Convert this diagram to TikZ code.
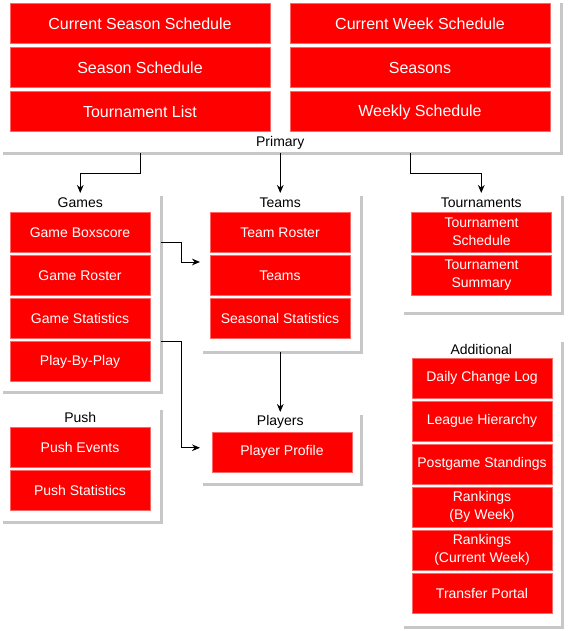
\documentclass[tikz,border=0pt]{standalone}
\usepackage{fontspec}
\setmainfont{Liberation Sans}
\usetikzlibrary{arrows.meta,positioning,shadows}

\begin{document}
\begin{tikzpicture}[
  x=0.75pt, y=-0.75pt,
  node distance=1.5pt,
  every node/.style={align=center, font=\fontsize{10.5}{13.5}\selectfont},
  group/.style={rectangle, fill=white, draw=none, inner sep=0pt, anchor=north west,
    drop shadow={shadow xshift=2.25pt, shadow yshift=-2.25pt, fill=black!22, opacity=1}},
  endpoint/.style={rectangle, fill=red, draw=red!60, line width=0.75pt, text=white,
    minimum width=105pt, minimum height=30pt, inner sep=1pt},
  wide/.style={endpoint, minimum width=195pt, font=\fontsize{12}{14}\selectfont},
  grouplabel/.style={inner sep=0pt},
  arrow/.style={-{Stealth[length=6pt, width=5pt]}, line width=0.75pt}
]
\useasboundingbox (0,0) rectangle (569,631);

% groups
\node[group, minimum width=420pt, minimum height=114pt] (primary) at (0,0) {};
\node[group, minimum width=120pt, minimum height=148.5pt] (games) at (0,193) {};
\node[group, minimum width=120pt, minimum height=118.5pt] (teams) at (200,193) {};
\node[group, minimum width=120pt, minimum height=89.25pt] (tournaments) at (401,193) {};
\node[group, minimum width=120pt, minimum height=215.25pt] (additional) at (401,339) {};
\node[group, minimum width=120pt, minimum height=85.5pt] (push) at (0,407) {};
\node[group, minimum width=120pt, minimum height=53.25pt] (players) at (200,412) {};

\node[grouplabel] (primarylabel) at ([yshift=7.5pt]primary.south) {Primary};
\node[grouplabel] (gameslabel) at ([yshift=-7.5pt]games.north) {Games};
\node[grouplabel] (teamslabel) at ([yshift=-7.5pt]teams.north) {Teams};
\node[grouplabel] (tournamentslabel) at ([yshift=-7.5pt]tournaments.north) {Tournaments};
\node[grouplabel] (additionallabel) at ([yshift=-7.5pt]additional.north) {Additional};
\node[grouplabel] (pushlabel) at ([yshift=-7.5pt]push.north) {Push};
\node[grouplabel] (playerslabel) at ([yshift=-7.5pt]players.north) {Players};

% primary
\node[wide] (cseason) at (140,24) {Current Season Schedule};
\node[wide, below=2.25pt of cseason] (season) {Season Schedule};
\node[wide, below=2.25pt of season] (tlist) {Tournament List};
\node[wide] (cweek) at (420,24) {Current Week Schedule};
\node[wide, below=2.25pt of cweek] (seasons) {Seasons};
\node[wide, below=2.25pt of seasons] (weekly) {Weekly Schedule};

% games
\node[endpoint] (boxscore) at (80,232.5) {Game Boxscore};
\node[endpoint, below=of boxscore] (groster) {Game Roster};
\node[endpoint, below=of groster] (gstats) {Game Statistics};
\node[endpoint, below=of gstats] (pbp) {Play-By-Play};

% teams
\node[endpoint] (troster) at (280,232.5) {Team Roster};
\node[endpoint, below=of troster] (teamlist) {Teams};
\node[endpoint, below=of teamlist] (sstats) {Seasonal Statistics};

% tournaments
\node[endpoint] (tschedule) at (481.5,232) {Tournament\\Schedule};
\node[endpoint, below=of tschedule] (tsummary) {Tournament\\Summary};

% additional
\node[endpoint] (changelog) at (482,378) {Daily Change Log};
\node[endpoint, below=of changelog] (hierarchy) {League Hierarchy};
\node[endpoint, below=of hierarchy] (standings) {Postgame Standings};
\node[endpoint, below=of standings] (rankweek) {Rankings\\(By Week)};
\node[endpoint, below=of rankweek] (rankcurrent) {Rankings\\(Current Week)};
\node[endpoint, below=of rankcurrent] (portal) {Transfer Portal};

% push
\node[endpoint] (pevents) at (80,447.5) {Push Events};
\node[endpoint, below=of pevents] (pstats) {Push Statistics};

% players
\node[endpoint] (profile) at (282,452) {Player Profile};

% connectors
\draw[arrow] (cseason |- primary.south) -- ++(0,21) -| (games.north);
\draw[arrow] (primary.south) -- (teams.north);
\draw[arrow] ([xshift=97.5pt]primary.south) -- ++(0,21) -| (tournaments.north);
\draw[arrow] ([yshift=-36.75pt]games.north east) -- ++(21,0) |- ([yshift=-51.75pt]teams.north west);
\draw[arrow] ([yshift=-111pt]games.north east) -- ++(21,0) |- (players.west);
\draw[arrow] (teams.south) -- (players.north);

\end{tikzpicture}
\end{document}
